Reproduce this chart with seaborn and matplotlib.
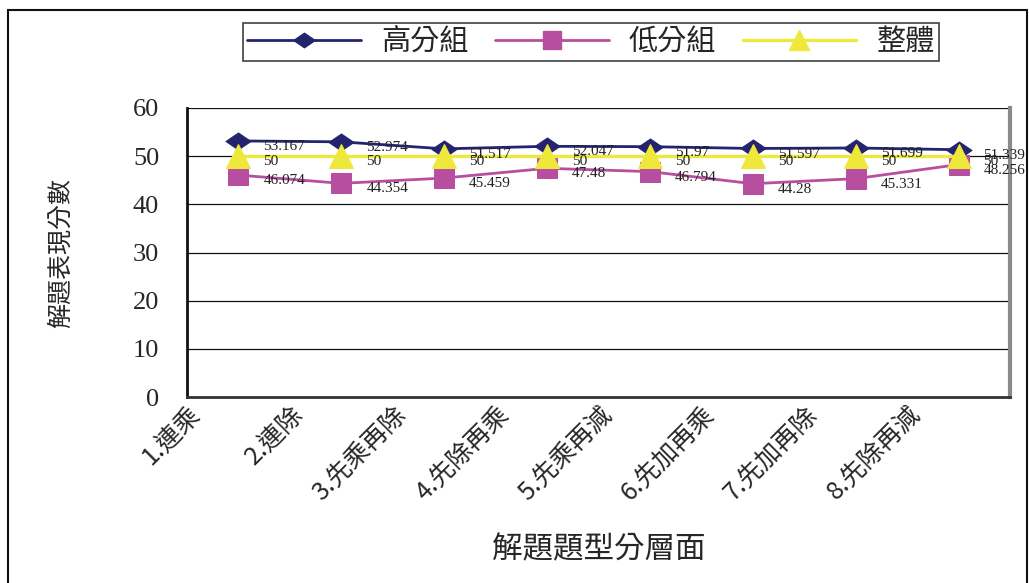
import numpy as np
import pandas as pd
import matplotlib
matplotlib.use("Agg")
import matplotlib.pyplot as plt
from matplotlib.path import Path
from matplotlib.patches import Rectangle
from matplotlib.lines import Line2D
import seaborn as sns

categories = ["1.連乘", "2.連除", "3.先乘再除", "4.先除再乘",
              "5.先乘再減", "6.先加再乘", "7.先加再除", "8.先除再減"]
high_group = [53.167, 52.974, 51.517, 52.047, 51.97, 51.597, 51.699, 51.339]
low_group = [46.074, 44.354, 45.459, 47.48, 46.794, 44.28, 45.331, 48.256]
overall = [50, 50, 50, 50, 50, 50, 50, 50]
series_names = ["高分組", "低分組", "整體"]
y_ticks = [0, 10, 20, 30, 40, 50, 60]

sns.set_theme(style="white")
plt.rcParams["font.family"] = ["Noto Sans CJK TC", "DejaVu Sans"]

CJK = ["Noto Sans CJK TC", "DejaVu Sans"]
SERIF = ["Liberation Serif", "DejaVu Serif"]

colors = ["#24246E", "#B84EA0", "#EEE83A"]
wide_diamond = Path([(-1, 0), (0, 0.68), (1, 0), (0, -0.68), (-1, 0)],
                    [Path.MOVETO, Path.LINETO, Path.LINETO, Path.LINETO, Path.CLOSEPOLY])
markers = [wide_diamond, "s", "^"]
msizes = [18, 14.5, 17]
lws = [2.0, 2.0, 2.4]

fig = plt.figure(figsize=(10.29, 5.83), dpi=100)
ax = fig.add_axes([187 / 1029, 1 - 397 / 583, 823 / 1029, 289 / 583])

x = np.arange(len(categories))
data = [high_group, low_group, overall]
for name, vals, c, m, ms, lw in zip(series_names, data, colors, markers, msizes, lws):
    df = pd.DataFrame({"x": x, "y": vals})
    sns.lineplot(data=df, x="x", y="y", ax=ax, color=c, marker=m, markersize=ms,
                 markeredgecolor=c, markerfacecolor=c, linewidth=lw, legend=False)

# value labels to the right of each point
for vals in data:
    for xi, v in zip(x, vals):
        ax.annotate(f"{v:g}", (xi, v), xytext=(18, -4), textcoords="offset points",
                    ha="left", va="center", fontsize=11, family=SERIF, color="#222222")

ax.set_xlim(-0.5, len(categories) - 0.5)
ax.set_ylim(0, 60)
ax.set_yticks(y_ticks)
ax.set_yticklabels([str(t) for t in y_ticks], family=SERIF, fontsize=19)
ax.tick_params(axis="y", length=0, pad=20)

ax.set_xticks(x - 0.5)
ax.set_xticklabels(categories, rotation=45, ha="right", rotation_mode="anchor",
                   fontsize=18, family=CJK)
ax.tick_params(axis="x", which="major", length=0, pad=3)
ax.set_xticks(np.arange(0.5, len(categories) - 0.5, 1.0), minor=True)
ax.tick_params(axis="x", which="minor", direction="in", length=6, width=1, color="#333333",
               bottom=True)

for t in [10, 20, 30, 40, 50, 60]:
    ax.axhline(t, color="#111111", linewidth=0.9, zorder=0.5)

ax.spines["top"].set_visible(False)
ax.spines["left"].set_color("#111111")
ax.spines["left"].set_linewidth(2)
ax.spines["bottom"].set_color("#333333")
ax.spines["bottom"].set_linewidth(2)
ax.spines["right"].set_color("#8a8a8a")
ax.spines["right"].set_linewidth(3)

ax.set_xlabel("解題題型分層面", fontsize=22, family=CJK)
ax.set_ylabel("解題表現分數", fontsize=18, family=CJK)
ax.xaxis.set_label_coords(0.5, -0.475)
ax.yaxis.set_label_coords(-0.138, 0.5)

handles = [Line2D([], [], color=c, marker=m, markersize=ms * 0.85, linewidth=lw,
                  markerfacecolor=c, markeredgecolor=c)
           for c, m, ms, lw in zip(colors, markers, msizes, lws)]
leg = fig.legend(handles, series_names, loc="center", bbox_to_anchor=(591 / 1029, 1 - 42 / 583),
                 ncol=3, frameon=True, fancybox=False, edgecolor="#111111",
                 prop={"family": CJK, "size": 21}, handlelength=3.9, columnspacing=0.9,
                 handletextpad=0.7, borderpad=0.15)
leg.get_frame().set_linewidth(1.2)

# outer frame of the chart area
fig.patches.append(Rectangle((8 / 1029, -0.05), 1019 / 1029, 1.05 - 10 / 583,
                             transform=fig.transFigure, fill=False,
                             edgecolor="#111111", linewidth=1.5))

fig.savefig("out.png", dpi=100)
